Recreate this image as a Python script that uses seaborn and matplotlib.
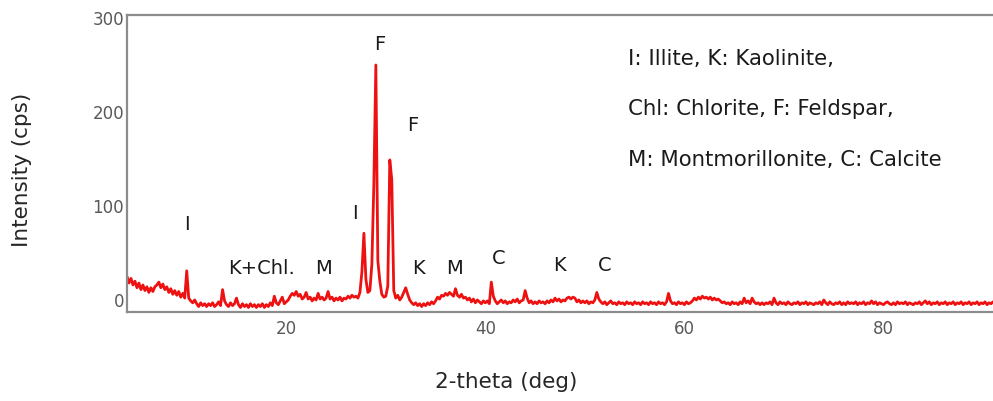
import numpy as np
import pandas as pd
import matplotlib
matplotlib.use("Agg")
import matplotlib.pyplot as plt
import seaborn as sns

# Step-scan angles (2-theta, 0.2 deg step) and measured counts
two_theta = np.round(np.arange(4.0, 91.01, 0.2), 1)
intensity = [
    25, 18, 23, 16, 20,   13, 18, 11, 16, 10,   14, 8, 13, 9, 14,    16, 19, 13, 17, 11,
    14, 8, 12, 6, 10,     5, 9, 3, 7, 2,        31, 2, -1, -3, 0,    -4, -7, -3, -6, -4,
    -7, -4, -6, -3, -7,   -5, -2, -6, 11, -1,   -5, -7, -3, -6, -4,  2, -5, -8, -4, -7,
    -5, -8, -4, -7, -5,   -8, -5, -7, -4, -8,   -5, -7, -3, -6, 4,   -3, -5, -1, 3, -4,
    -2, 0, 4, 7, 5,       9, 4, 6, 1, 3,        8, 1, 3, -1, 2,      0, 7, 1, 3, 0,
    2, 9, 1, 3, -1,       2, 0, 3, -1, 2,       1, 4, 2, 5, 3,       4, 2, 8, 30, 71,
    22, 8, 10, 38, 124,   250, 42, 20, 6, 3,    4, 15, 149, 128, 10, 2, 5, 0, 3, 8,
    13, 6, 0, -3, -5,     -3, -6, -4, -7, -4,   -6, -3, -5, -2, -4,  -1, 3, 1, 5, 4,
    7, 5, 8, 6, 4,        12, 5, 3, 6, 2,       3, 0, 2, -2, 1,      -3, 0, -2, -4, -1,
    -3, -1, -4, 19, 4,    -1, -4, -2, 0, -3,    -1, -4, -2, -3, 0,   -2, 1, -3, -1, 0,
    10, 2, -3, -1, -4,    -2, -4, -1, -3, -2,   -4, -1, -3, 0, -2,   2, -1, 1, -2, 0,
    -1, 2, 3, 1, 3,       2, -2, 0, -3, -1,     -3, -1, -4, -2, -3,  0, 8, 1, -2, -4,
    -2, -5, -3, -1, -4,   -3, -5, -2, -4, -3,   -5, -2, -4, -3, -5,  -2, -4, -3, -5, -2,
    -4, -3, -5, -2, -4,   -3, -5, -2, -4, -3,   -5, -2, 7, -1, -4,   -3, -5, -2, -4, -3,
    -5, -2, -4, -3, -1,   2, 0, 3, 1, 4,        2, 3, 1, 3, 0,       2, 0, 1, -1, -3,
    -2, -4, -3, -5, -2,   -4, -3, -5, -2, -4,   2, -3, -1, -4, 2,    -2, -4, -3, -5, -3,
    -5, -3, -4, -2, -5,   2, -3, -5, -2, -4,    -3, -5, -2, -4, -5,  -3, -4, -2, -5, -3,
    -4, -2, -5, -3, -4,   -5, -3, -4, -2, -5,   0, -3, -5, -2, -4,   -5, -3, -4, -2, -5,
    -3, -5, -2, -4, -3,   -4, -2, -5, -3, -4,   -2, -5, -3, -4, -1,  -4, -2, -5, -3, -4,
    -5, -3, -2, -4, -5,   -3, -5, -2, -4, -3,   -4, -2, -5, -3, -4,  -5, -3, -4, -2, -5,
    -3, -1, -4, -2, -5,   -3, -4, -2, -5, -3,   -4, -2, -5, -3, -4,  -2, -5, -3, -4, -2,
    -5, -3, -4, -2, -5,   -3, -4, -2, -5, -3,   -4, -2, -5, -3, -4,  -2,
]

# Phase labels placed above the reflections
peak_labels = ["I", "K+Chl.", "M", "I", "F", "F", "K", "M", "C", "K", "C"]
peak_label_x = [10.05, 17.5, 23.7, 26.9, 29.4, 32.7, 33.3, 36.9, 41.3, 47.4, 52.0]
peak_label_y = [80, 34, 34, 92.5, 272, 186, 33, 33, 43.6, 37, 37]

key_lines = [
    "I: Illite, K: Kaolinite,",
    "Chl: Chlorite, F: Feldspar,",
    "M: Montmorillonite, C: Calcite",
]

x_ticks = [20, 40, 60, 80]
y_ticks = [0, 100, 200, 300]

df = pd.DataFrame({"two_theta": two_theta, "intensity": intensity})

sns.set_theme(style="white")
plt.rcParams["font.family"] = ["DejaVu Sans"]

W, H = 993, 401
fig = plt.figure(figsize=(W / 100, H / 100), dpi=100)
left, right, top, bottom = 127, 993, 15, 312
ax = fig.add_axes([left / W, 1 - bottom / H, (right - left) / W, (bottom - top) / H])

sns.lineplot(data=df, x="two_theta", y="intensity", color="#ee1111",
             linewidth=2.0, estimator=None, ax=ax)

ax.set_xlim(4, 91)
ax.set_ylim(-12.8, 303.2)
ax.set_xticks(x_ticks)
ax.set_yticks(y_ticks)
ax.set_xlabel("")
ax.set_ylabel("")
ax.tick_params(axis="both", length=0, colors="#595959", labelsize=12)
ax.tick_params(axis="x", pad=6)
ax.tick_params(axis="y", pad=2)

for side in ["top", "left", "bottom"]:
    ax.spines[side].set_color("#8c8c8c")
    ax.spines[side].set_linewidth(1.6)
ax.spines["right"].set_visible(False)

for txt, x, y in zip(peak_labels, peak_label_x, peak_label_y):
    ax.text(x, y, txt, ha="center", va="center", fontsize=14, color="#1a1a1a")

key_y = [65, 115, 166]
for line, yp in zip(key_lines, key_y):
    fig.text(628 / W, 1 - yp / H, line, ha="left", va="baseline",
             fontsize=15.3, color="#1a1a1a")

fig.text(22 / W, 1 - 170 / H, "Intensity (cps)", rotation=90, ha="center",
         va="center", fontsize=15.5, color="#262626")
fig.text(506 / W, 1 - 382 / H, "2-theta (deg)", ha="center", va="center",
         fontsize=15.5, color="#262626")

fig.savefig("out.png", dpi=100)
